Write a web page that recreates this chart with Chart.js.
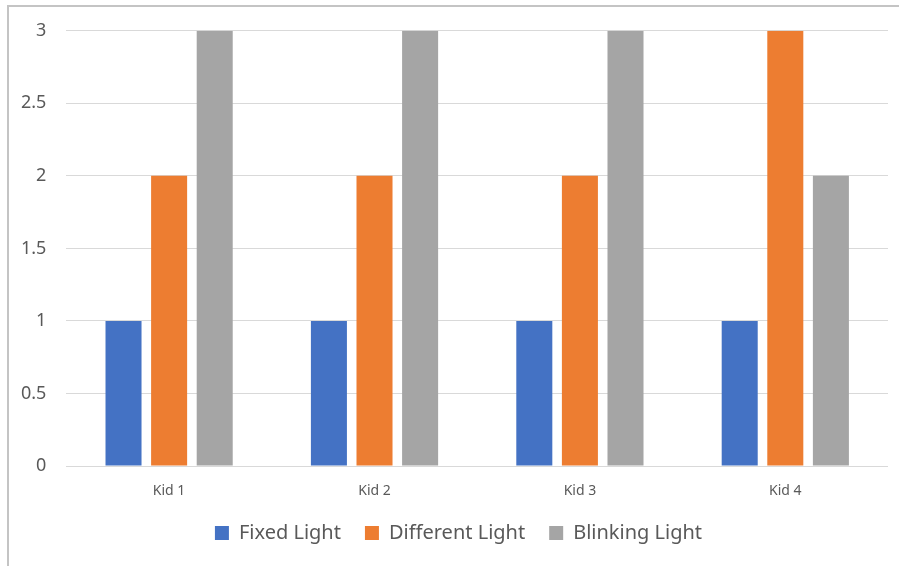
<!DOCTYPE html>
<html>
<head>
<meta charset="utf-8">
<script src="https://cdn.jsdelivr.net/npm/chart.js@4"></script>
<style>
  body { margin: 0; background: #fff; }
  #wrap { position: relative; width: 899px; height: 566px; overflow: hidden; }
  #frame {
    position: absolute; left: 7px; top: 5px; right: -10px; bottom: -10px;
    border-top: 2px solid #c4c4c4; border-left: 2px solid #c4c4c4;
  }
  #chart { position: absolute; left: 0; top: 0; }
</style>
</head>
<body>
<div id="wrap">
  <div id="frame"></div>
  <canvas id="chart" width="899" height="566"></canvas>
</div>
<script>
const kids = ['Kid 1', 'Kid 2', 'Kid 3', 'Kid 4']
const fixedLight = [1, 1, 1, 1]
const differentLight = [2, 2, 2, 3]
const blinkingLight = [3, 3, 3, 2]

const textColor = '#595959'
const font = "'Noto Sans', sans-serif"

const ctx = document.getElementById('chart')

// nudge the legend row a bit to the right of the canvas centre
const legendShift = {
    id: 'legendShift',
    afterLayout(chart) {
        chart.legend.left += 14
        chart.legend.right += 14
    }
}

var myChart = new Chart(ctx, {
    type: 'bar',
    data: {
        labels: kids,
        datasets: [
            { label: 'Fixed Light', data: fixedLight, backgroundColor: '#4472C4' },
            { label: 'Different Light', data: differentLight, backgroundColor: '#ED7D31' },
            { label: 'Blinking Light', data: blinkingLight, backgroundColor: '#A5A5A5' }
        ]
    },
    options: {
        responsive: false,
        animation: false,
        datasets: {
            bar: { categoryPercentage: 0.666, barPercentage: 0.79 }
        },
        layout: {
            padding: { left: 1, right: 11, top: 22, bottom: 13 }
        },
        scales: {
            x: {
                grid: { display: false, drawTicks: false },
                border: { display: false },
                ticks: { color: textColor, font: { family: font, size: 14 }, padding: 17 },
                // keep the gap under the category names tight
                afterFit: scale => { scale.height = 33 }
            },
            y: {
                min: 0,
                max: 3,
                ticks: {
                    stepSize: 0.5,
                    color: textColor,
                    font: { family: font, size: 18 },
                    padding: 20,
                    // plain numbers: 3, 2.5, 2 ...
                    callback: value => String(value)
                },
                grid: { color: '#d9d9d9', lineWidth: 1, drawTicks: false },
                border: { display: false }
            }
        },
        plugins: {
            tooltip: { enabled: false },
            legend: {
                position: 'bottom',
                labels: {
                    color: textColor,
                    font: { family: font, size: 20 },
                    boxWidth: 14,
                    boxHeight: 14,
                    padding: 24
                }
            }
        }
    },
    plugins: [legendShift]
})
</script>
</body>
</html>
